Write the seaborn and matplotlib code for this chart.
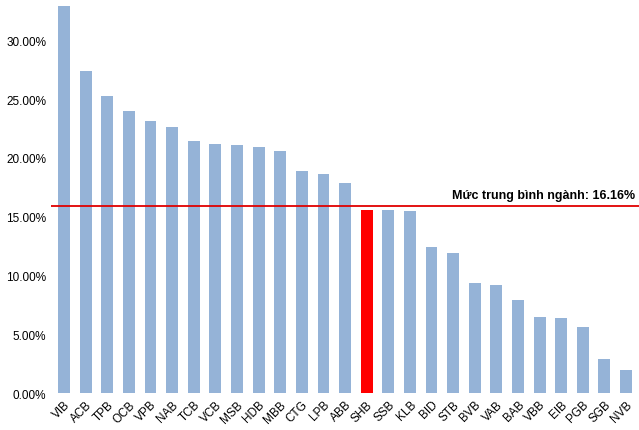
import matplotlib
matplotlib.use("Agg")
import matplotlib.pyplot as plt
import seaborn as sns
import pandas as pd

banks = ["VIB","ACB","TPB","OCB","VPB","NAB","TCB","VCB","MSB","HDB","MBB","CTG","LPB","ABB",
         "SHB","SSB","KLB","BID","STB","BVB","VAB","BAB","VBB","EIB","PGB","SGB","NVB"]
values = [32.9,27.4,25.25,24.0,23.1,22.6,21.4,21.2,21.1,20.9,20.6,18.9,18.6,17.9,
          15.6,15.6,15.5,12.4,11.9,9.4,9.2,7.9,6.5,6.4,5.6,2.9,1.95]
highlight = "SHB"
avg = 16.16
yticks = [0,5,10,15,20,25,30]

df = pd.DataFrame({"bank": banks, "value": values})
palette = {b: ("#ff0000" if b == highlight else "#95b3d7") for b in banks}

fig = plt.figure(figsize=(6.39, 4.31), dpi=100)
ax = fig.add_axes([0.08, 0.085, 0.92, 0.915])
sns.barplot(data=df, x="bank", y="value", hue="bank", palette=palette, legend=False,
            width=0.55, saturation=1, ax=ax)
ax.axhline(15.9, color="#e00000", lw=1.3)
ax.text(26.4, 16.3, f"Mức trung bình ngành: {avg:.2f}%", ha="right", va="bottom",
        fontsize=9, fontweight="bold", fontfamily="Liberation Sans")
ax.set_ylim(0, 33.5)
ax.set_xlim(-0.6, 26.6)
ax.set_yticks(yticks)
ax.set_yticklabels([f"{t:.2f}%" for t in yticks], fontsize=8.5, fontfamily="Liberation Sans")
ax.set_xticks(range(len(banks)))
ax.set_xticklabels(banks, rotation=45, ha="right", rotation_mode="anchor", fontsize=8.5,
                   fontfamily="Liberation Sans")
ax.tick_params(length=0)
ax.set_xlabel(""); ax.set_ylabel("")
for s in ax.spines.values():
    s.set_visible(False)
fig.savefig("out.png", dpi=100)
